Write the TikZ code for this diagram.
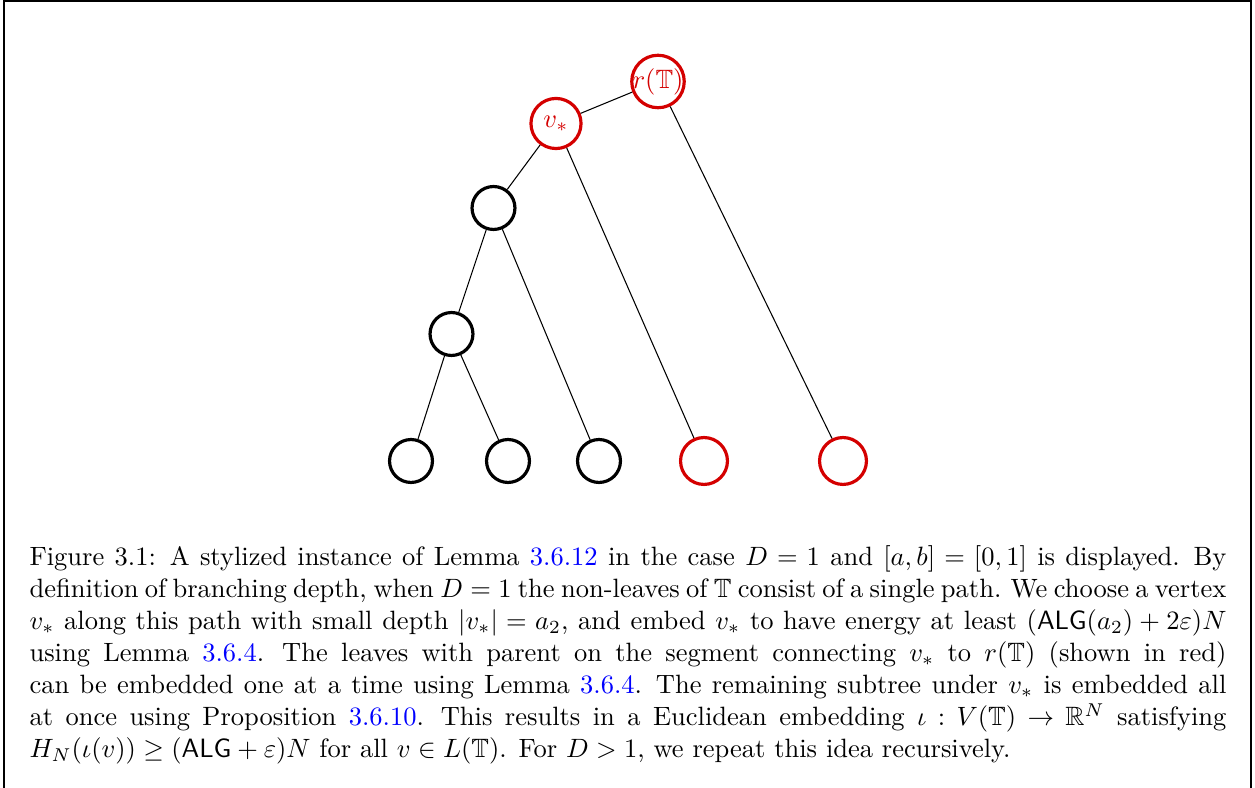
\documentclass[tikz,border=0pt]{standalone}
\usepackage{amsmath,amssymb}
\usepackage{xcolor}

\definecolor{vertexred}{RGB}{212,0,0}
\definecolor{refblue}{RGB}{0,0,255}
\newcommand{\refnum}[1]{\textcolor{refblue}{#1}}
\newcommand{\ALG}{\mathsf{ALG}}
\newlength{\capwidth}
\setlength{\capwidth}{451.6pt}
% one justified caption line, and the closing line at natural width
\newcommand{\capline}[1]{\hbox to \capwidth{#1}}
\newcommand{\caplast}[1]{\hbox{#1}}

\tikzset{
  vertex/.style={circle, draw=black, line width=1.2pt, inner sep=0pt, minimum size=16.2pt},
  redleaf/.style={vertex, draw=vertexred, minimum size=17.7pt},
  redvertex/.style={vertex, draw=vertexred, text=vertexred, minimum size=18.9pt},
  rootvertex/.style={vertex, draw=vertexred, minimum size=19.8pt},
  treeedge/.style={draw=black, line width=0.4pt},
  frameline/.style={draw=black, line width=0.5pt},
}

\begin{document}
\begin{tikzpicture}[x=0.3773pt, y=-0.3773pt]
  \useasboundingbox (0,0) rectangle (1255,788);

  % surrounding frame (open at the bottom)
  \coordinate (fbl) at (4,788);
  \coordinate (ftl) at (4,1);
  \coordinate (ftr) at (1251,1);
  \coordinate (fbr) at (1251,788);
  \draw[frameline] (fbl) -- (ftl) -- (ftr) -- (fbr);

  % tree vertices
  \node[rootvertex, label={[text=vertexred, inner sep=0pt]center:$r(\mathbb{T})$}] (root) at (658,81.5) {};
  \node[redvertex] (vstar) at (556,123.5) {$v_*$};
  \node[vertex] (n1) at (493.5,208) {};
  \node[vertex] (n2) at (451.5,334) {};
  \node[vertex] (l1) at (411,461) {};
  \node[vertex] (l2) at (508,461) {};
  \node[vertex] (l3) at (599,461) {};
  \node[redleaf] (l4) at (704,461) {};
  \node[redleaf] (l5) at (843,461) {};

  % tree edges
  \draw[treeedge] (root) -- (vstar);
  \draw[treeedge] (root) -- (l5);
  \draw[treeedge] (vstar) -- (n1);
  \draw[treeedge] (vstar) -- (l4);
  \draw[treeedge] (n1) -- (n2);
  \draw[treeedge] (n1) -- (l3);
  \draw[treeedge] (n2) -- (l1);
  \draw[treeedge] (n2) -- (l2);

  % caption, one box per line, with stretchable word spaces
  \node[anchor=base west, text width=\capwidth, inner sep=0pt,
        font=\fontsize{10}{12.07}\selectfont] (caption) at (29,566) {%
    \spaceskip=3.33pt plus 2.5pt minus 1.3pt
    \xspaceskip=4.44pt plus 3.5pt minus 1.3pt
    \capline{Figure 3.1: A stylized instance of Lemma \refnum{3.6.12} in the case $D=1$ and $[a,b]=[0,1]$ is displayed. By}
    \capline{definition of branching depth, when $D=1$ the non-leaves of $\mathbb{T}$ consist of a single path. We choose a vertex}
    \capline{$v_*$ along this path with small depth $|v_*|=a_2$, and embed $v_*$ to have energy at least $(\ALG(a_2)+2\varepsilon)N$}
    \capline{using Lemma \refnum{3.6.4}. The leaves with parent on the segment connecting $v_*$ to $r(\mathbb{T})$ (shown in red)}
    \capline{can be embedded one at a time using Lemma \refnum{3.6.4}. The remaining subtree under $v_*$ is embedded all}
    \capline{at once using Proposition \refnum{3.6.10}. This results in a Euclidean embedding $\iota : V(\mathbb{T}) \to \mathbb{R}^N$ satisfying}
    \caplast{$H_N(\iota(v)) \ge (\ALG+\varepsilon)N$ for all $v\in L(\mathbb{T})$. For $D>1$, we repeat this idea recursively.}};
\end{tikzpicture}
\end{document}
